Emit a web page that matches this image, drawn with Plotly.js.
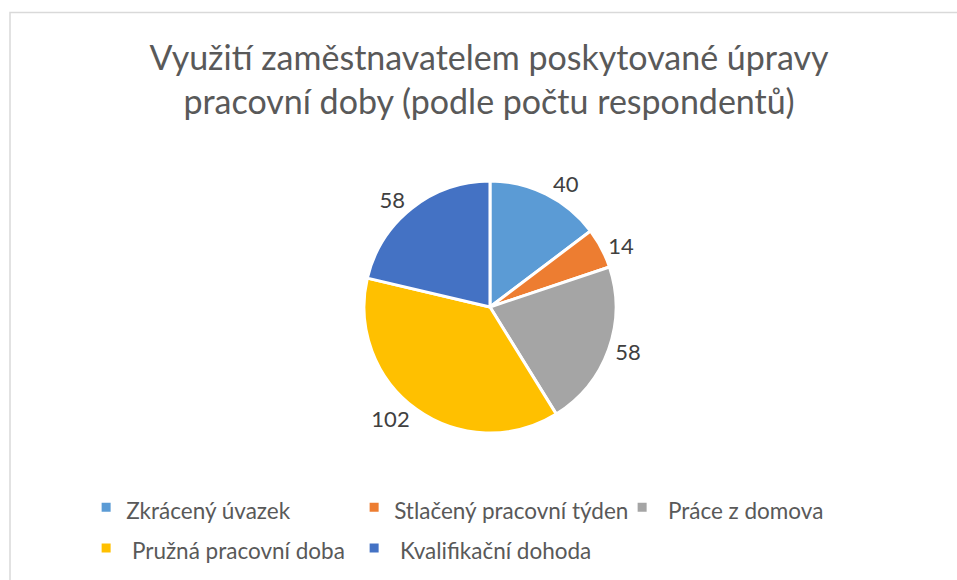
<!DOCTYPE html>
<html>
<head>
<meta charset="utf-8">
<script src="https://cdn.plot.ly/plotly-3.0.1.min.js"></script>
<style>
  html, body { margin: 0; padding: 0; background: #ffffff; }
  #chart { width: 957px; height: 580px; }
</style>
</head>
<body>
<div id="chart"></div>
<script>
const categories = ["Zkrácený úvazek", "Stlačený pracovní týden", " Práce z domova", " Pružná pracovní doba", " Kvalifikační dohoda"];
const values = [40, 14, 58, 102, 58];
const colors = ["#5B9BD5", "#ED7D31", "#A5A5A5", "#FFC000", "#4472C4"];
const titleText = "Využití zaměstnavatelem poskytované úpravy<br>pracovní doby (podle počtu respondentů)";

const FONT = "Lato, 'Open Sans', sans-serif";

// legend rows are taller than the glyphs: size the legend font for the row pitch,
// and draw the visible label text at the smaller size
const legendLabels = categories.map(c => '<span style="font-size:22.5px">' + c + '</span>');

const trace = {
  type: "pie",
  labels: legendLabels,
  values: values,
  sort: false,
  direction: "clockwise",
  rotation: 0,
  marker: { colors: colors, line: { color: "#ffffff", width: 3 } },
  textinfo: "value",
  textposition: "outside",
  textfont: { family: FONT, size: 22, color: "#404040" },
  hoverinfo: "label+value",
  domain: { x: [0.312, 0.712], y: [1 - 433 / 580, 1 - 181 / 580] },
  showlegend: true
};

const layout = {
  width: 957,
  height: 580,
  margin: { l: 0, r: 0, t: 0, b: 0 },
  paper_bgcolor: "#ffffff",
  font: { family: FONT, color: "#595959" },
  title: {
    text: titleText,
    font: { family: FONT, size: 34, color: "#595959" },
    x: 489 / 957,
    xanchor: "center",
    xref: "paper",
    y: 1 - 70 / 580,
    yanchor: "middle",
    yref: "container"
  },
  legend: {
    orientation: "h",
    x: 0.090,
    xanchor: "left",
    y: 1 - 482 / 580,
    yanchor: "top",
    entrywidth: 223,
    font: { family: FONT, size: 29, color: "#595959" },
    bgcolor: "rgba(0,0,0,0)"
  },
  shapes: [
    {
      type: "rect", xref: "paper", yref: "paper",
      x0: 10 / 957, x1: 1.02, y0: -0.02, y1: 1 - 12.5 / 580,
      line: { color: "#d9d9d9", width: 1.5 },
      fillcolor: "rgba(0,0,0,0)",
      layer: "below"
    }
  ]
};

Plotly.newPlot("chart", [trace], layout, { displayModeBar: false, staticPlot: true });
</script>
</body>
</html>
